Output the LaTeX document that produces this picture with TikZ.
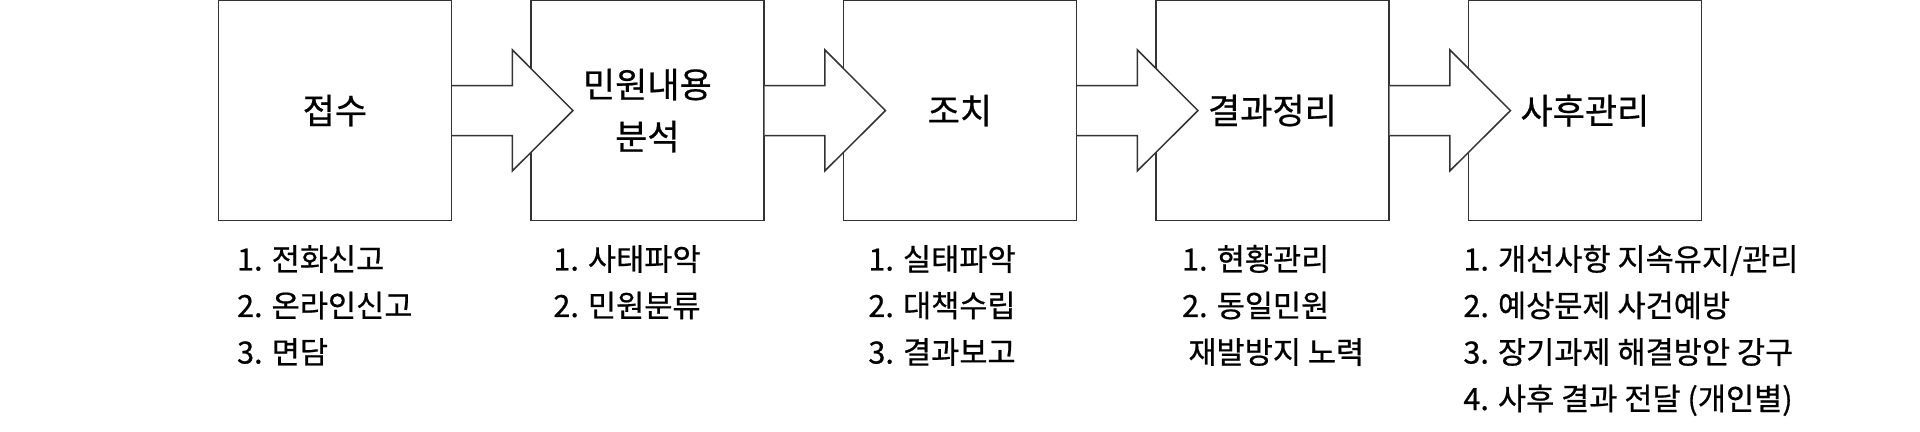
\documentclass[tikz,border=0pt]{standalone}
\usepackage{fontspec}
\setmainfont[FakeBold=0.6]{Noto Sans CJK KR}
\usetikzlibrary{calc}
\begin{document}
\begin{tikzpicture}[x=0.5pt,y=-0.5pt,
  stagebox/.style={draw=black!80, line width=0.75pt, minimum width=116.5pt, minimum height=110.1pt, inner sep=0pt, align=center, font=\fontsize{17.5}{26}\selectfont},
  listline/.style={anchor=base west, inner sep=0pt, font=\fontsize{15.3}{17}\selectfont},
  blockarrow/.style={draw=black!80, fill=white, line width=0.75pt, line join=miter}]
\useasboundingbox (0,0) rectangle (1920,432);
\node[stagebox] (b1) at (334.9,110.6) {접수};
\node[stagebox] (b2) at (647.4,110.6) {민원내용\\분석};
\node[stagebox] (b3) at (959.9,110.6) {조치};
\node[stagebox] (b4) at (1272.4,110.6) {결과정리};
\node[stagebox] (b5) at (1584.9,110.6) {사후관리};
\foreach \s in {b1,b2,b3,b4}{
  \draw[blockarrow] ($(\s.east)+(0,-25)$) -- ++(60.2,0) -- ++(0,-35.7) -- ++(60.6,60.7) -- ++(-60.6,60.3) -- ++(0,-35.3) -- ($(\s.east)+(0,25)$);
}
% column 1
\node[listline] (a1) at (236.7,270.5) {1. 전화신고};
\node[listline] (a2) at (236.7,317) {2. 온라인신고};
\node[listline] (a3) at (236.7,363.5) {3. 면담};
% column 2
\node[listline] (c1) at (553,270.5) {1. 사태파악};
\node[listline] (c2) at (553,317) {2. 민원분류};
% column 3
\node[listline] (d1) at (868,270.5) {1. 실태파악};
\node[listline] (d2) at (868,317) {2. 대책수립};
\node[listline] (d3) at (868,363.5) {3. 결과보고};
% column 4
\node[listline] (e1) at (1181.7,270.5) {1. 현황관리};
\node[listline] (e2) at (1181.7,317) {2. 동일민원};
\node[listline] (e3) at (1188,363.5) {재발방지 노력};
% column 5
\node[listline] (f1) at (1463,270.5) {1. 개선사항 지속유지/관리};
\node[listline] (f2) at (1463,317) {2. 예상문제 사건예방};
\node[listline] (f3) at (1463,363.5) {3. 장기과제 해결방안 강구};
\node[listline] (f4) at (1463,410) {4. 사후 결과 전달 (개인별)};
\end{tikzpicture}
\end{document}
